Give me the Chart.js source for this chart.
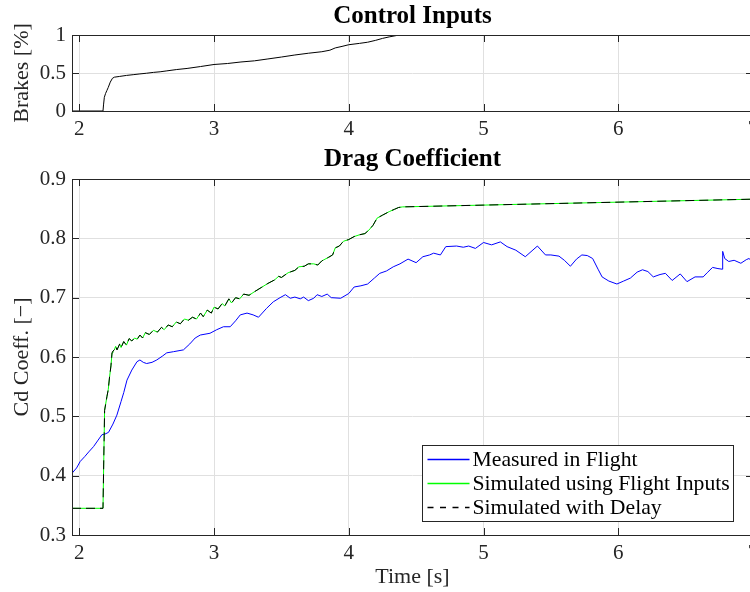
<!DOCTYPE html>
<html>
<head>
<meta charset="utf-8">
<script src="https://cdn.jsdelivr.net/npm/chart.js@4/dist/chart.umd.min.js"></script>
<style>
  html, body { margin: 0; padding: 0; background: #fff; overflow: hidden; width: 750px; height: 592px; }
  canvas { position: absolute; left: 0; }
  #brakes { top: 0; }
  #drag { top: 145px; }
</style>
</head>
<body>
<canvas id="brakes" width="754" height="145"></canvas>
<canvas id="drag" width="754" height="447"></canvas>
<script>
"use strict";

// ---- data ----
const timeTicks = [2, 3, 4, 5, 6, 7];
const brakeTicks = [0, 0.5, 1];
const dragTicks = [0.3, 0.4, 0.5, 0.6, 0.7, 0.8, 0.9];

const brakeTime = [1.946, 2.176, 2.180, 2.186, 2.195, 2.205, 2.215, 2.230, 2.246, 2.26, 2.30, 2.35, 2.40,
  2.45, 2.50, 2.55, 2.60, 2.65, 2.72, 2.80, 2.90, 3.00, 3.10, 3.20, 3.30, 3.40, 3.50, 3.60, 3.70, 3.80,
  3.86, 3.90, 3.95, 4.00, 4.08, 4.14, 4.20, 4.25, 4.30, 4.36, 4.40, 7.0];
const brakeValue = [0, 0, 0.08, 0.18, 0.23, 0.27, 0.31, 0.38, 0.43, 0.445, 0.455, 0.468, 0.478,
  0.488, 0.497, 0.508, 0.516, 0.528, 0.545, 0.56, 0.585, 0.612, 0.625, 0.645, 0.66, 0.685, 0.71, 0.737, 0.76, 0.78,
  0.80, 0.83, 0.85, 0.872, 0.89, 0.905, 0.93, 0.955, 0.975, 0.995, 1.0, 1.0];

const measTime = [1.946, 1.98, 2.007, 2.04, 2.07, 2.106, 2.14, 2.168, 2.19, 2.217, 2.25, 2.279, 2.31, 2.33,
  2.354, 2.39, 2.428, 2.45, 2.475, 2.5, 2.54, 2.575, 2.62, 2.649, 2.7, 2.773, 2.82, 2.86, 2.898, 2.97,
  3.02, 3.07, 3.12, 3.16, 3.195, 3.245, 3.29, 3.33, 3.39, 3.44, 3.49, 3.53, 3.566, 3.6, 3.64, 3.665,
  3.70, 3.74, 3.765, 3.80, 3.84, 3.87, 3.94, 4.0, 4.04, 4.09, 4.14, 4.19, 4.23, 4.28, 4.33, 4.38, 4.44,
  4.50, 4.55, 4.6, 4.63, 4.68, 4.72, 4.8, 4.85, 4.89, 4.94, 5.0, 5.06, 5.125, 5.175, 5.24, 5.31, 5.36, 5.4, 5.46,
  5.5, 5.56, 5.6, 5.645, 5.69, 5.73, 5.77, 5.81, 5.85, 5.88, 5.93, 5.99, 6.04, 6.09, 6.14, 6.18, 6.22,
  6.26, 6.31, 6.35, 6.4, 6.46, 6.51, 6.57, 6.63, 6.66, 6.70, 6.74, 6.77, 6.775, 6.79, 6.82, 6.86, 6.91,
  6.95, 6.97, 7.0];
const measValue = [0.404, 0.413, 0.424, 0.432, 0.44, 0.449, 0.46, 0.469, 0.47, 0.473, 0.487, 0.502, 0.525, 0.54,
  0.561, 0.578, 0.592, 0.595, 0.591, 0.589, 0.591, 0.595, 0.602, 0.607, 0.609, 0.612, 0.622, 0.632, 0.637, 0.64,
  0.646, 0.651, 0.651, 0.661, 0.671, 0.674, 0.671, 0.667, 0.682, 0.693, 0.7, 0.705, 0.699, 0.701, 0.698, 0.701,
  0.695, 0.699, 0.705, 0.702, 0.706, 0.7, 0.699, 0.707, 0.718, 0.72, 0.723, 0.733, 0.741, 0.745, 0.752, 0.757, 0.765,
  0.759, 0.769, 0.772, 0.775, 0.772, 0.786, 0.787, 0.785, 0.787, 0.783, 0.793, 0.789, 0.794, 0.786, 0.78, 0.769, 0.779, 0.787, 0.772,
  0.772, 0.770, 0.763, 0.753, 0.765, 0.772, 0.771, 0.766, 0.748, 0.735, 0.728, 0.723, 0.728, 0.733, 0.743, 0.747, 0.744,
  0.735, 0.739, 0.741, 0.729, 0.740, 0.727, 0.735, 0.735, 0.742, 0.751, 0.749, 0.748, 0.778, 0.766, 0.761, 0.763, 0.758,
  0.764, 0.766, 0.76];

const simTime = [1.946, 2.176, 2.182, 2.188, 2.205, 2.215, 2.225, 2.235, 2.243, 2.25, 2.26, 2.27, 2.28, 2.30,
  2.31, 2.33, 2.35, 2.37, 2.39, 2.41, 2.43, 2.45, 2.47, 2.49, 2.52, 2.55, 2.58, 2.61, 2.63, 2.66, 2.69, 2.72,
  2.75, 2.78, 2.81, 2.84, 2.87, 2.90, 2.92, 2.95, 2.98, 3.00, 3.03, 3.06, 3.08, 3.11, 3.13, 3.16, 3.19, 3.22,
  3.26, 3.30, 3.35, 3.40, 3.45, 3.48, 3.50, 3.55, 3.60, 3.63, 3.67, 3.70, 3.74, 3.77, 3.80, 3.85, 3.88, 3.90,
  3.93, 3.96, 4.00, 4.04, 4.08, 4.12, 4.15, 4.18, 4.21, 4.25, 4.30, 4.34, 4.37, 4.40, 7.0];
const simValue = [0.345, 0.345, 0.43, 0.51, 0.533, 0.545, 0.567, 0.585, 0.607, 0.61, 0.612, 0.618, 0.612, 0.622,
  0.616, 0.626, 0.62, 0.631, 0.627, 0.632, 0.63, 0.637, 0.632, 0.641, 0.638, 0.645, 0.642, 0.65, 0.646, 0.654, 0.651, 0.659,
  0.656, 0.664, 0.662, 0.667, 0.664, 0.674, 0.668, 0.679, 0.674, 0.684, 0.681, 0.69, 0.686, 0.698, 0.691, 0.7, 0.698, 0.706,
  0.704, 0.71, 0.717, 0.724, 0.73, 0.736, 0.734, 0.742, 0.746, 0.752, 0.753, 0.757, 0.757, 0.755, 0.762, 0.768, 0.772, 0.784,
  0.787, 0.795, 0.798, 0.803, 0.806, 0.808, 0.814, 0.822, 0.834, 0.839, 0.845, 0.849, 0.852, 0.853, 0.866];
const delayValue = simValue;

const legendLabels = ['Measured in Flight', 'Simulated using Flight Inputs', 'Simulated with Delay'];
const seriesColors = ['#0000ff', '#00ff00', '#000000'];

// ---- style ----
const FONT = '"Liberation Serif", "Times New Roman", serif';
const AXIS_COLOR = '#262626';
const GRID_COLOR = '#e0e0e0';

function toPoints(xs, ys) {
  return xs.map((x, i) => ({ x: x, y: ys[i] }));
}

// MATLAB-like box, inward ticks, titles and the in-plot legend
const framePlugin = {
  id: 'frame',
  afterDraw(chart, args, opts) {
    const ctx = chart.ctx;
    const a = chart.chartArea;
    const sx = chart.scales.x, sy = chart.scales.y;
    ctx.save();
    ctx.strokeStyle = AXIS_COLOR;
    ctx.lineWidth = 1;
    ctx.setLineDash([]);
    ctx.beginPath();
    sx.ticks.forEach(t => {
      const px = Math.round(sx.getPixelForValue(t.value)) + 0.5;
      ctx.moveTo(px, a.bottom); ctx.lineTo(px, a.bottom - 7);
      ctx.moveTo(px, a.top); ctx.lineTo(px, a.top + 7);
    });
    sy.ticks.forEach(t => {
      const py = Math.round(sy.getPixelForValue(t.value)) + 0.5;
      ctx.moveTo(a.left, py); ctx.lineTo(a.left + 7, py);
      ctx.moveTo(a.right, py); ctx.lineTo(a.right - 7, py);
    });
    ctx.stroke();
    ctx.strokeRect(Math.round(a.left) + 0.5, Math.round(a.top) + 0.5, Math.round(a.right - a.left), Math.round(a.bottom - a.top));

    const cx = (a.left + a.right) / 2;
    ctx.fillStyle = '#000';
    ctx.textAlign = 'center';
    ctx.textBaseline = 'middle';
    ctx.font = 'bold 25px ' + FONT;
    ctx.fillText(opts.title, cx, a.top - opts.titleGap);

    ctx.fillStyle = AXIS_COLOR;
    ctx.font = '22px ' + FONT;
    if (opts.xLabel) {
      ctx.fillText(opts.xLabel, cx, a.bottom + opts.xLabelGap);
    }
    ctx.save();
    ctx.translate(22, (a.top + a.bottom) / 2);
    ctx.rotate(-Math.PI / 2);
    ctx.fillText(opts.yLabel, 0, 0);
    ctx.restore();

    if (opts.legend) {
      const boxW = 311, boxH = 76;
      const bx = Math.round(a.right - 20 - boxW) + 0.5;
      const by = Math.round(a.bottom - 14 - boxH) + 0.5;
      ctx.fillStyle = '#fff';
      ctx.fillRect(bx, by, boxW, boxH);
      ctx.strokeStyle = AXIS_COLOR;
      ctx.strokeRect(bx, by, boxW, boxH);
      ctx.font = '21.7px ' + FONT;
      ctx.textAlign = 'left';
      legendLabels.forEach((label, i) => {
        const ly = Math.round(by + 13 + i * 24.2) + 0.5;
        ctx.strokeStyle = seriesColors[i];
        ctx.lineWidth = 1.6;
        ctx.setLineDash(i === 2 ? [6, 6.5] : []);
        ctx.beginPath();
        ctx.moveTo(bx + 5, ly);
        ctx.lineTo(bx + 47, ly);
        ctx.stroke();
        ctx.setLineDash([]);
        ctx.fillStyle = '#000';
        ctx.fillText(label, bx + 50, ly + 1);
      });
    }
    ctx.restore();
  }
};

function axisOptions(yTicks, yMin, yMax, xHeight) {
  return {
    x: {
      type: 'linear',
      min: 1.946,
      max: 7,
      afterBuildTicks: s => { s.ticks = timeTicks.map(v => ({ value: v })); },
      afterFit: s => { s.height = xHeight; s.paddingLeft = 0; s.paddingRight = 0; },
      grid: { color: GRID_COLOR, drawTicks: false },
      border: { display: false },
      ticks: { autoSkip: false, maxRotation: 0, padding: 6, color: AXIS_COLOR, font: { family: FONT, size: 21 } }
    },
    y: {
      type: 'linear',
      min: yMin,
      max: yMax,
      afterBuildTicks: s => { s.ticks = yTicks.map(v => ({ value: v })); },
      afterFit: s => { s.width = 72; s.paddingTop = 0; s.paddingBottom = 0; },
      grid: { color: GRID_COLOR, drawTicks: false },
      border: { display: false },
      ticks: { autoSkip: false, padding: 6, color: AXIS_COLOR, font: { family: FONT, size: 21 },
        callback: v => String(v) }
    }
  };
}

new Chart(document.getElementById('brakes'), {
  type: 'line',
  data: {
    datasets: [{
      label: 'Brakes',
      data: toPoints(brakeTime, brakeValue),
      borderColor: '#000',
      borderWidth: 1,
      pointRadius: 0,
      tension: 0
    }]
  },
  options: {
    responsive: false,
    animation: false,
    layout: { padding: { left: 0, right: 1, top: 35, bottom: 0 } },
    scales: axisOptions(brakeTicks, 0, 1, 34),
    plugins: {
      legend: { display: false },
      tooltip: { enabled: false },
      frame: { title: 'Control Inputs', titleGap: 18, yLabel: 'Brakes [%]' }
    }
  },
  plugins: [framePlugin]
});

new Chart(document.getElementById('drag'), {
  type: 'line',
  data: {
    datasets: [
      {
        label: legendLabels[0],
        data: toPoints(measTime, measValue),
        borderColor: seriesColors[0],
        borderWidth: 1,
        pointRadius: 0,
        tension: 0,
        order: 2
      },
      {
        label: legendLabels[1],
        data: toPoints(simTime, simValue),
        borderColor: seriesColors[1],
        borderWidth: 1,
        pointRadius: 0,
        tension: 0,
        order: 1
      },
      {
        label: legendLabels[2],
        data: toPoints(simTime, delayValue),
        borderColor: seriesColors[2],
        borderDash: [9, 5],
        borderWidth: 1,
        pointRadius: 0,
        tension: 0,
        order: 0
      }
    ]
  },
  options: {
    responsive: false,
    animation: false,
    layout: { padding: { left: 0, right: 1, top: 34, bottom: 0 } },
    scales: axisOptions(dragTicks, 0.3, 0.9, 57),
    plugins: {
      legend: { display: false },
      tooltip: { enabled: false },
      frame: { title: 'Drag Coefficient', titleGap: 19, yLabel: 'Cd Coeff. [\u2212]', xLabel: 'Time [s]',
        xLabelGap: 42, legend: true }
    }
  },
  plugins: [framePlugin]
});
</script>
</body>
</html>
